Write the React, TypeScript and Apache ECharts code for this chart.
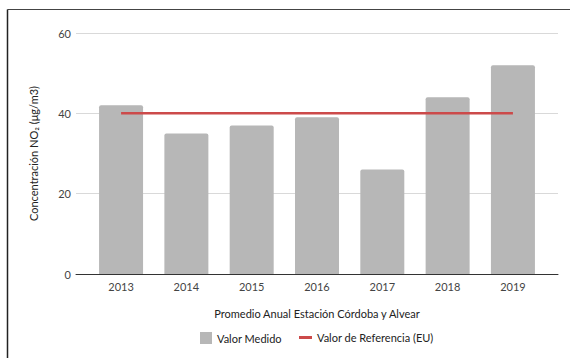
import React, { useEffect, useRef } from "react";
import * as echarts from "echarts";

const years = ["2013", "2014", "2015", "2016", "2017", "2018", "2019"];
const measured = [42, 35, 37, 39, 26, 44, 52];
const reference = [40, 40, 40, 40, 40, 40, 40];
const yTicks = [0, 20, 40, 60];
const seriesNames = ["Valor Medido", "Valor de Referencia (EU)"];
const yAxisTitle = "Concentración NO₂ (μg/m3)";
const xAxisTitle = "Promedio Anual Estación Córdoba y Alvear";

const FONT = "Lato, sans-serif";
const FS = 11;

export default function App() {
  const ref = useRef<HTMLDivElement>(null);
  useEffect(() => {
    if (!ref.current) return;
    const chart = echarts.init(ref.current, null, { renderer: "svg" });
    chart.setOption({
      animation: false,
      textStyle: { fontFamily: FONT },
      grid: { left: 76, right: 12, top: 33, bottom: 84, containLabel: false },
      graphic: [
        { type: "line", shape: { x1: 7.5, y1: 9.5, x2: 570, y2: 9.5 }, style: { stroke: "#444", lineWidth: 1.2 } },
        { type: "line", shape: { x1: 7.5, y1: 9.5, x2: 7.5, y2: 358 }, style: { stroke: "#222", lineWidth: 1.5 } },
      ],
      legend: [
        {
          data: [{ name: seriesNames[0], icon: "rect" }],
          left: 195,
          top: 327,
          itemWidth: 12,
          itemHeight: 12,
          textStyle: { fontFamily: FONT, fontSize: FS, color: "#222" },
        },
        {
          data: [{ name: seriesNames[1], icon: "rect" }],
          left: 294,
          top: 327,
          itemWidth: 13,
          itemHeight: 3,
          textStyle: { fontFamily: FONT, fontSize: FS, color: "#222" },
        },
      ],
      xAxis: {
        type: "value",
        min: -0.69,
        max: 6.69,
        name: xAxisTitle,
        nameLocation: "middle",
        nameGap: 34,
        nameTextStyle: { fontFamily: FONT, fontSize: FS, color: "#222" },
        axisLine: { show: true, onZero: false, lineStyle: { color: "#333", width: 1 } },
        axisTick: { show: false },
        splitLine: { show: false },
        axisLabel: {
          customValues: years.map((_, i) => i),
          formatter: (v: number) => years[Math.round(v)] ?? "",
          fontFamily: FONT,
          fontSize: FS,
          color: "#444",
          margin: 7,
        },
      },
      yAxis: {
        type: "value",
        min: yTicks[0],
        max: yTicks[yTicks.length - 1],
        interval: 20,
        name: yAxisTitle,
        nameLocation: "middle",
        nameGap: 37,
        nameTextStyle: { fontFamily: FONT, fontSize: FS, color: "#222" },
        axisLine: { show: false },
        axisTick: { show: false },
        splitLine: { lineStyle: { color: "#d9d9d9", width: 1 } },
        axisLabel: { fontFamily: FONT, fontSize: FS, color: "#444", margin: 5 },
      },
      series: [
        {
          name: seriesNames[0],
          type: "bar",
          data: measured.map((v, i) => [i, v]),
          barWidth: 44,
          itemStyle: { color: "#b7b7b7", borderRadius: [2, 2, 0, 0] },
        },
        {
          name: seriesNames[1],
          type: "line",
          data: reference.map((v, i) => [i, v]),
          symbol: "none",
          lineStyle: { color: "#cc4a4a", width: 2.5 },
          itemStyle: { color: "#cc4a4a" },
        },
      ],
    });
    return () => chart.dispose();
  }, []);
  return (
    <div
      ref={ref}
      style={{ position: "absolute", left: 0, top: 0, width: 570, height: 358, background: "#fff" }}
    />
  );
}
